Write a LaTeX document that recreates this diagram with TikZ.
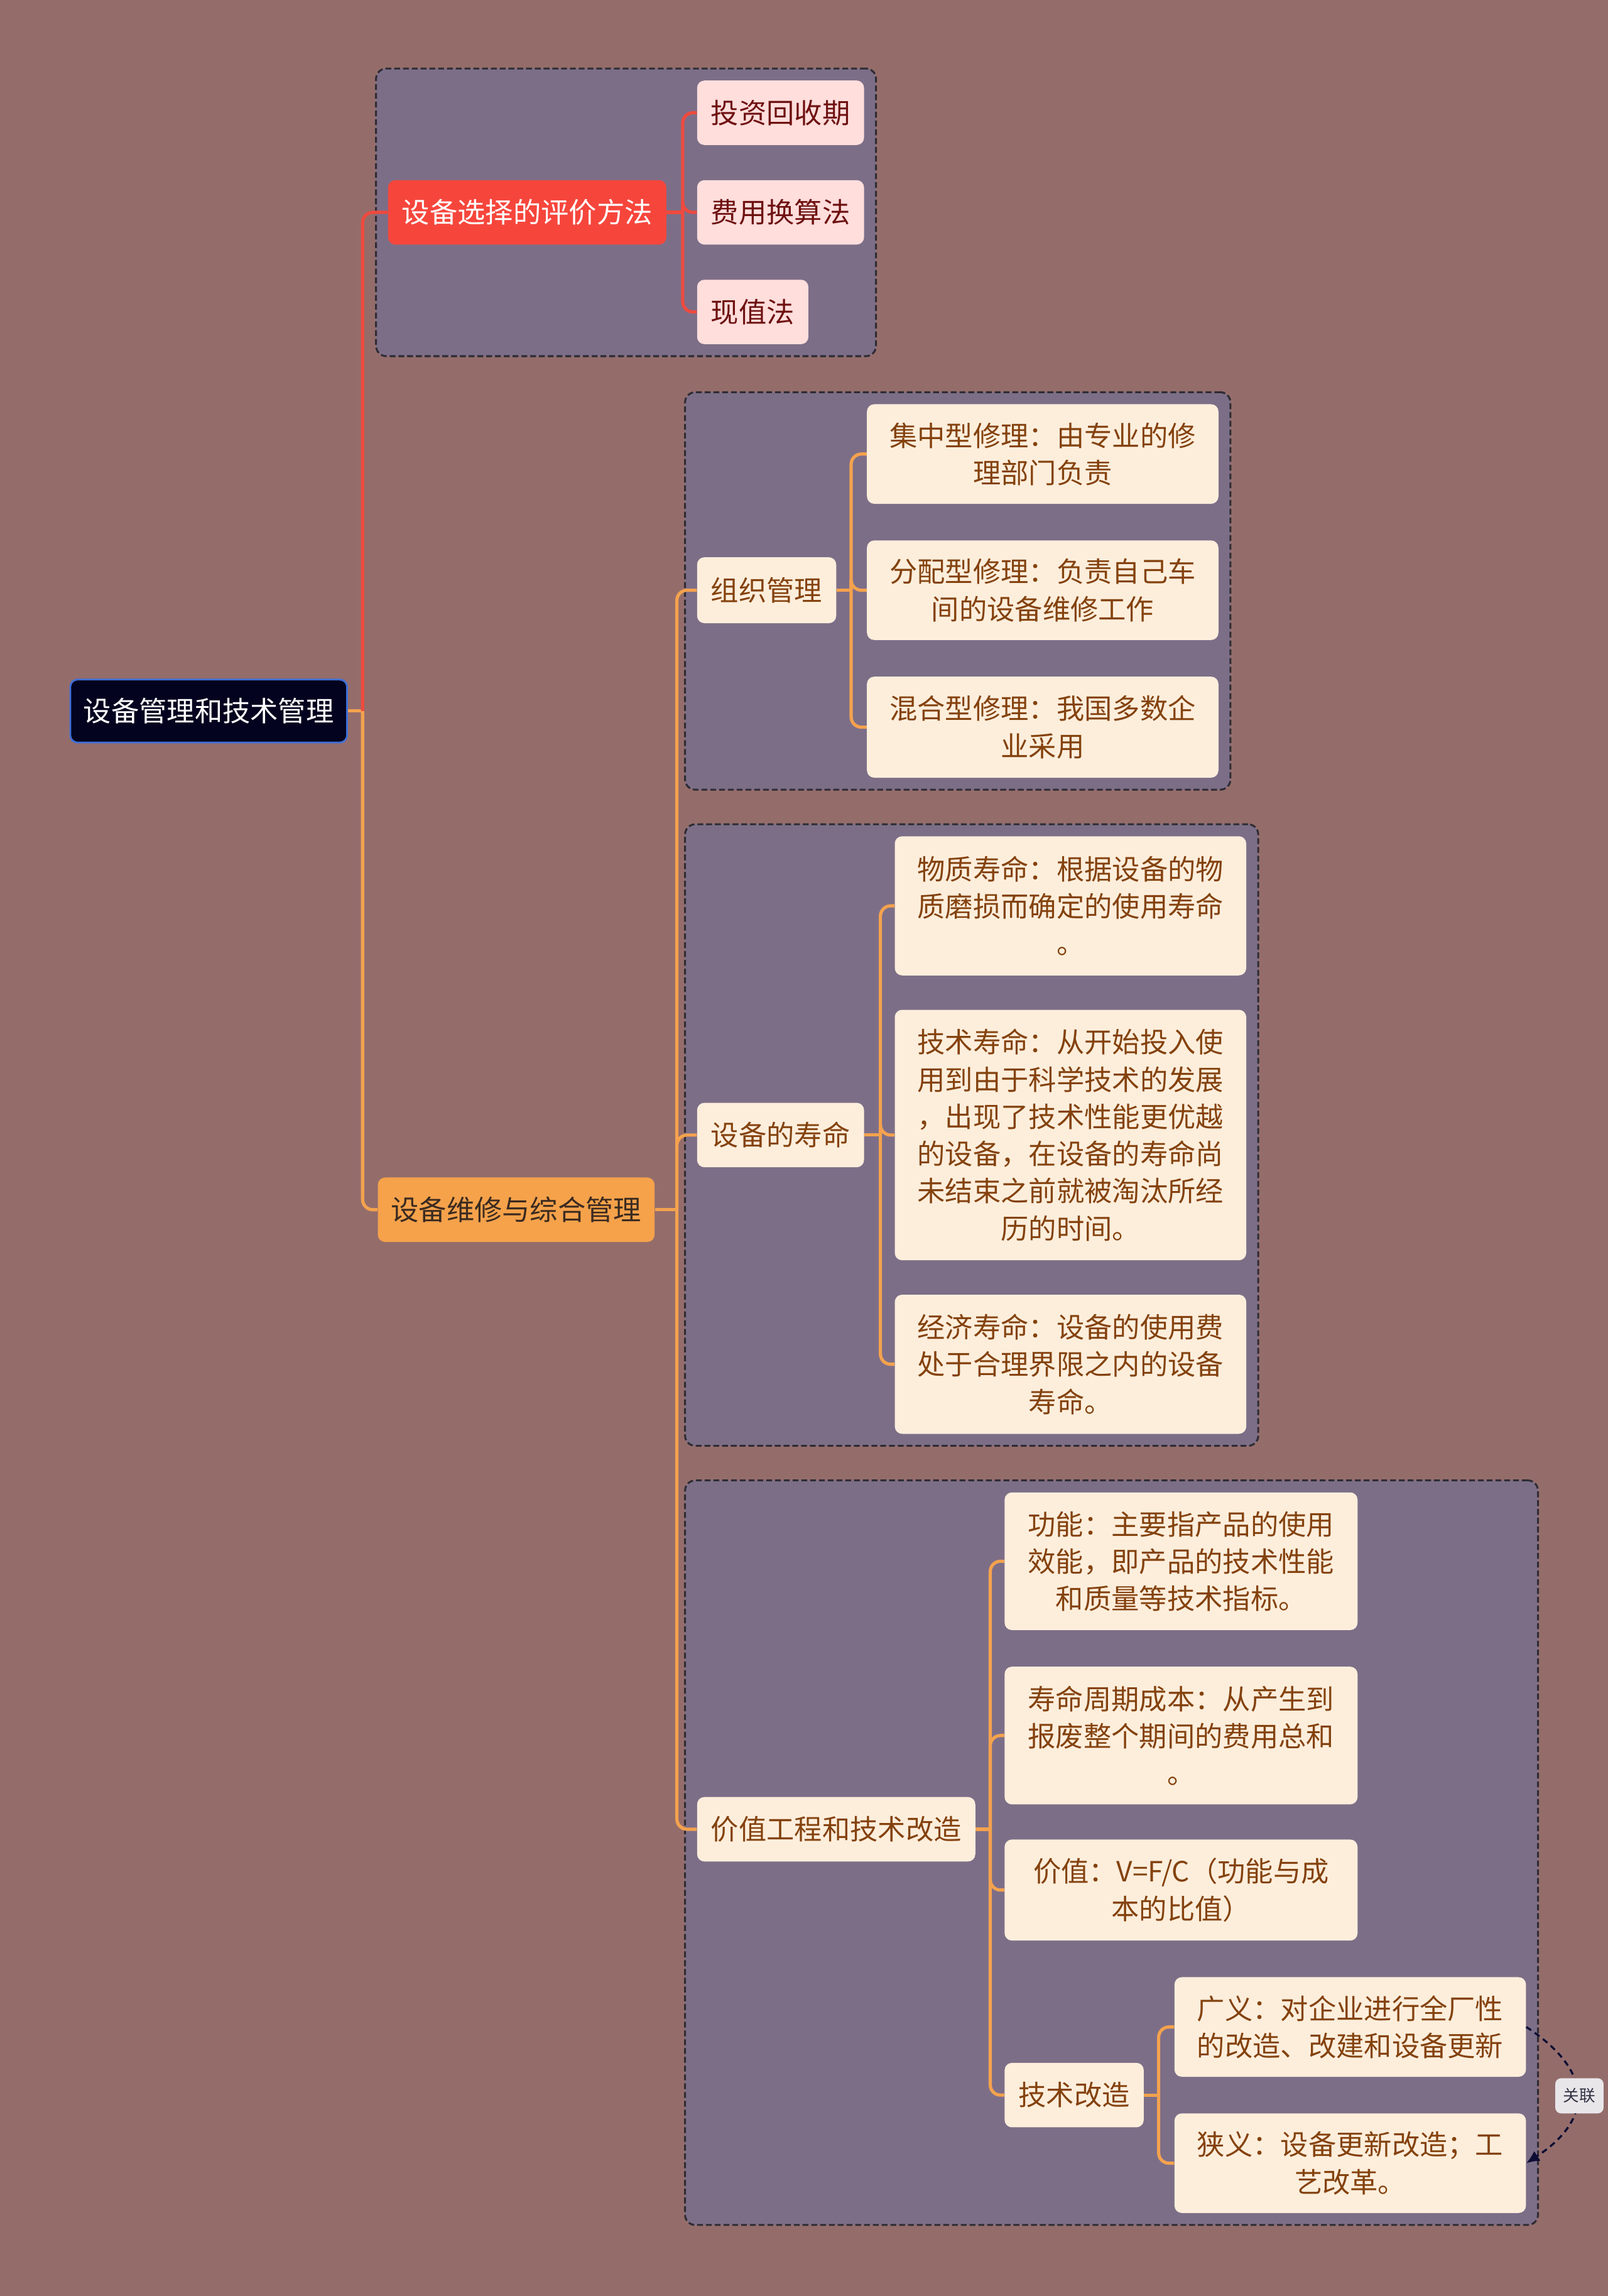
\documentclass[tikz,border=0pt]{standalone}
\usepackage{fontspec}
\newfontfamily\cjkfont{Noto Sans CJK SC}
\usepackage{tikz}
\usetikzlibrary{arrows.meta,positioning,fit,calc,backgrounds}
\definecolor{PageBg}{HTML}{946D6B}
\definecolor{GroupFill}{HTML}{7D6E88}
\definecolor{GroupEdge}{HTML}{2E2C33}
\definecolor{RootFill}{HTML}{03031F}
\definecolor{RootEdge}{HTML}{3E6FD8}
\definecolor{RedTopic}{HTML}{F6463C}
\definecolor{RedLine}{HTML}{EE4A3E}
\definecolor{PinkLeaf}{HTML}{FFDEDC}
\definecolor{PinkText}{HTML}{6E1010}
\definecolor{OrangeTopic}{HTML}{F5A24B}
\definecolor{OrangeText}{HTML}{3B2A20}
\definecolor{OrangeLine}{HTML}{F4A24E}
\definecolor{Cream}{HTML}{FDEEDC}
\definecolor{CreamText}{HTML}{84420E}
\definecolor{RelLine}{HTML}{0D0D33}
\definecolor{RelFill}{HTML}{E9E6EA}
\definecolor{RelText}{HTML}{333344}

\begin{document}
\begin{tikzpicture}[x=1pt, y=-1pt, every node/.style={font={\cjkfont\fontsize{19}{25.4}\selectfont}, align=center, inner sep=0pt}]
\tikzset{basebox/.style={rounded corners=5pt, minimum height=44pt}}
\tikzset{rootbox/.style={basebox, draw=RootEdge, line width=1.2pt, fill=RootFill, text=white}}
\tikzset{redtopic/.style={basebox, fill=RedTopic, text=white}}
\tikzset{pinkleaf/.style={basebox, fill=PinkLeaf, text=PinkText}}
\tikzset{orangetopic/.style={basebox, fill=OrangeTopic, text=OrangeText}}
\tikzset{creambox/.style={basebox, fill=Cream, text=CreamText}}
\tikzset{groupbox/.style={draw=GroupEdge, line width=1.3pt, dash pattern=on 4pt off 2pt, fill=GroupFill, rounded corners=7pt, inner sep=8pt}}
\tikzset{redlink/.style={draw=RedLine, line width=2.2pt, rounded corners=7pt}}
\tikzset{orangelink/.style={draw=OrangeLine, line width=2.2pt, rounded corners=7pt}}
\tikzset{relarrow/.style={draw=RelLine, line width=1.4pt, dash pattern=on 4pt off 3pt, -{Latex[length=9pt,width=8pt]}}}
\tikzset{rellabel/.style={fill=RelFill, text=RelText, font={\cjkfont\fontsize{11}{13}\selectfont}, minimum width=33pt, minimum height=24pt, rounded corners=4pt}}
\useasboundingbox (0,0) rectangle (1098,1567.7);
\begin{scope}[on background layer]
\fill[PageBg] (0,0) rectangle (1098,1567.7);
\end{scope}
\node[rootbox, minimum width=189pt, minimum height=43pt] (root) at (142.5,485.5) {设备管理和技术管理};
\node[redtopic, minimum width=190pt] (b1) at (360,145) {设备选择的评价方法};
\node[pinkleaf, minimum width=114pt] (l11) at (533,77) {投资回收期};
\node[pinkleaf, minimum width=114pt] (l12) at (533,145) {费用换算法};
\node[pinkleaf, minimum width=76pt] (l13) at (514,213) {现值法};
\node[orangetopic, minimum width=189pt] (b2) at (352.5,826) {设备维修与综合管理};
\node[creambox, minimum width=95pt, minimum height=45pt] (s1) at (523.5,403) {组织管理};
\node[creambox, minimum width=240pt, minimum height=68pt] (s11) at (712,310) {集中型修理：由专业的修\\理部门负责};
\node[creambox, minimum width=240pt, minimum height=68pt] (s12) at (712,403) {分配型修理：负责自己车\\间的设备维修工作};
\node[creambox, minimum width=240pt, minimum height=69pt] (s13) at (712,496.5) {混合型修理：我国多数企\\业采用};
\node[creambox, minimum width=114pt] (s2) at (533,775) {设备的寿命};
\node[creambox, minimum width=240pt, minimum height=95pt] (s21) at (731,618.5) {物质寿命：根据设备的物\\质磨损而确定的使用寿命\\。};
\node[creambox, minimum width=240pt, minimum height=171pt] (s22) at (731,775) {技术寿命：从开始投入使\\用到由于科学技术的发展\\，出现了技术性能更优越\\的设备，在设备的寿命尚\\未结束之前就被淘汰所经\\历的时间。};
\node[creambox, minimum width=240pt, minimum height=95pt] (s23) at (731,931.5) {经济寿命：设备的使用费\\处于合理界限之内的设备\\寿命。};
\node[creambox, minimum width=190pt] (s3) at (571,1249) {价值工程和技术改造};
\node[creambox, minimum width=241pt, minimum height=94pt] (s31) at (806.5,1066) {功能：主要指产品的使用\\效能，即产品的技术性能\\和质量等技术指标。};
\node[creambox, minimum width=241pt, minimum height=94pt] (s32) at (806.5,1185) {寿命周期成本：从产生到\\报废整个期间的费用总和\\。};
\node[creambox, minimum width=241pt, minimum height=69pt] (s33) at (806.5,1290.5) {价值：V=F/C（功能与成\\本的比值）};
\node[creambox, minimum width=95pt] (s34) at (733.5,1430.5) {技术改造};
\node[creambox, minimum width=240pt, minimum height=68pt] (s341) at (922,1384) {广义：对企业进行全厂性\\的改造、改建和设备更新};
\node[creambox, minimum width=240pt, minimum height=68pt] (s342) at (922,1477) {狭义：设备更新改造；工\\艺改革。};
\begin{scope}[on background layer]
\node[groupbox, fit=(b1)(l11)(l12)(l13)] (g1) {};
\node[groupbox, fit=(s1)(s11)(s12)(s13)] (g2) {};
\node[groupbox, fit=(s2)(s21)(s22)(s23)] (g3) {};
\node[groupbox, fit=(s3)(s31)(s34)(s341)(s342)] (g4) {};
\end{scope}
\coordinate (rootfork) at ($(root.east)+(10,0)$);
\coordinate (b1fork) at ($(b1.east)+(11,0)$);
\coordinate (b2fork) at ($(b2.east)+(15,0)$);
\coordinate (s1fork) at ($(s1.east)+(10,0)$);
\coordinate (s2fork) at ($(s2.east)+(11,0)$);
\coordinate (s3fork) at ($(s3.east)+(10,0)$);
\coordinate (s34fork) at ($(s34.east)+(10,0)$);
\draw[orangelink] (root.east) -- (rootfork);
\draw[redlink] (rootfork) |- (b1.west);
\draw[orangelink] (rootfork) |- (b2.west);
\draw[redlink] (b1.east) -- (b1fork);
\foreach \c in {l11,l12,l13} \draw[redlink] (b1fork) |- (\c.west);
\draw[orangelink] (b2.east) -- (b2fork);
\foreach \c in {s1,s2,s3} \draw[orangelink] (b2fork) |- (\c.west);
\draw[orangelink] (s1.east) -- (s1fork);
\foreach \c in {s11,s12,s13} \draw[orangelink] (s1fork) |- (\c.west);
\draw[orangelink] (s2.east) -- (s2fork);
\foreach \c in {s21,s22,s23} \draw[orangelink] (s2fork) |- (\c.west);
\draw[orangelink] (s3.east) -- (s3fork);
\foreach \c in {s31,s32,s33,s34} \draw[orangelink] (s3fork) |- (\c.west);
\draw[orangelink] (s34.east) -- (s34fork);
\foreach \c in {s341,s342} \draw[orangelink] (s34fork) |- (\c.west);
\draw[relarrow] (s341.east) .. controls ($(s341.east)+(46,30)$) and ($(s342.east)+(46,-30)$) .. (s342.east);
\node[rellabel] (rel) at (1078.5,1431) {关联};
\end{tikzpicture}
\end{document}
